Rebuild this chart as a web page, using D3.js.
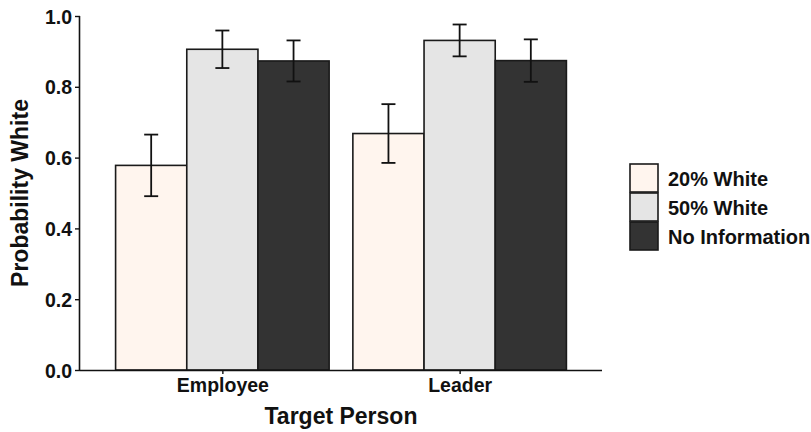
<!DOCTYPE html>
<html>
<head>
<meta charset="utf-8">
<script src="https://cdn.jsdelivr.net/npm/d3@7"></script>
<style>
  html, body { margin: 0; padding: 0; background: #fff; }
  svg { display: block; font-family: "Liberation Sans", Arial, sans-serif; }
</style>
</head>
<body>
<svg id="chart" width="811" height="432"></svg>
<script>
// Target persons on the x axis and the information conditions within each group
const targets = ["Employee", "Leader"];
const conditions = ["20% White", "50% White", "No Information"];

// Mean probability per condition (one entry per target) and the error bar half-widths
const meanTwenty = [0.578, 0.668];
const meanFifty = [0.906, 0.931];
const meanNoInfo = [0.873, 0.874];
const errTwenty = [0.087, 0.083];
const errFifty = [0.053, 0.045];
const errNoInfo = [0.058, 0.060];

const yTicks = [0.0, 0.2, 0.4, 0.6, 0.8, 1.0];
const fills = ["#fff5ee", "#e5e5e5", "#333333"];

const rows = [];
targets.forEach((t, i) => {
  rows.push({ target: t, cond: conditions[0], mean: meanTwenty[i], err: errTwenty[i] });
  rows.push({ target: t, cond: conditions[1], mean: meanFifty[i], err: errFifty[i] });
  rows.push({ target: t, cond: conditions[2], mean: meanNoInfo[i], err: errNoInfo[i] });
});

const svg = d3.select("#chart");
const panelLeft = 80, panelRight = 602, panelTop = 16, panelBottom = 370;
const fontFamily = "'Liberation Sans', Arial, sans-serif";

// Discrete axis with 0.6-unit padding on each side, bars filling 0.9 of a unit
const unit = (panelRight - panelLeft) / 2.2;
const centre = d3.scalePoint().domain(targets).range([panelLeft + 0.6 * unit, panelRight - 0.6 * unit]);
const groupWidth = 0.9 * unit;
const x1 = d3.scaleBand().domain(conditions).range([0, groupWidth]);
const y = d3.scaleLinear().domain([0, 1]).range([panelBottom, panelTop]);
const colour = d3.scaleOrdinal().domain(conditions).range(fills);

// Bars
svg.append("g").selectAll("rect").data(rows).join("rect")
  .attr("x", d => centre(d.target) - groupWidth / 2 + x1(d.cond))
  .attr("y", d => y(d.mean))
  .attr("width", x1.bandwidth())
  .attr("height", d => y(0) - y(d.mean))
  .attr("fill", d => colour(d.cond))
  .attr("stroke", "#1a1a1a")
  .attr("stroke-width", 1.6);

// Error bars
const capHalf = 7;
const eb = svg.append("g").attr("stroke", "#111").attr("stroke-width", 1.8).attr("fill", "none");
rows.forEach(d => {
  const cx = centre(d.target) - groupWidth / 2 + x1(d.cond) + x1.bandwidth() / 2;
  const hi = y(d.mean + d.err), lo = y(d.mean - d.err);
  eb.append("line").attr("x1", cx).attr("x2", cx).attr("y1", hi).attr("y2", lo);
  eb.append("line").attr("x1", cx - capHalf).attr("x2", cx + capHalf).attr("y1", hi).attr("y2", hi);
  eb.append("line").attr("x1", cx - capHalf).attr("x2", cx + capHalf).attr("y1", lo).attr("y2", lo);
});

// Y axis
const yAxis = svg.append("g").attr("transform", `translate(${panelLeft},0)`)
  .call(d3.axisLeft(y).tickValues(yTicks).tickFormat(d3.format(".1f")).tickSize(5).tickPadding(3));
yAxis.select(".domain").attr("d", `M-0.5,${panelTop}V${panelBottom}`).attr("stroke", "#111").attr("stroke-width", 1.6);
yAxis.selectAll(".tick line").attr("stroke", "#111").attr("stroke-width", 1.4);
yAxis.selectAll(".tick text").attr("fill", "#111").attr("dy", "0.36em")
  .style("font-size", "19.5px").style("font-weight", "bold").style("font-family", fontFamily);

// X axis
const xAxis = svg.append("g").attr("transform", `translate(0,${panelBottom})`)
  .call(d3.axisBottom(centre).tickSize(4).tickPadding(4));
xAxis.select(".domain").attr("d", `M${panelLeft},0.5H${panelRight}`).attr("stroke", "#111").attr("stroke-width", 1.6);
xAxis.selectAll(".tick line").attr("stroke", "#111").attr("stroke-width", 1.4);
xAxis.selectAll(".tick text").attr("fill", "#111")
  .style("font-size", "19.5px").style("font-weight", "bold").style("font-family", fontFamily);

// Axis titles
svg.append("text")
  .attr("x", (panelLeft + panelRight) / 2).attr("y", 424)
  .attr("text-anchor", "middle")
  .style("font-size", "23px").style("font-weight", "bold").attr("fill", "#111")
  .text("Target Person");
svg.append("text")
  .attr("transform", `translate(28,${(panelTop + panelBottom) / 2}) rotate(-90)`)
  .attr("text-anchor", "middle")
  .style("font-size", "23px").style("font-weight", "bold").attr("fill", "#111")
  .text("Probability White");

// Legend
const legend = svg.append("g").attr("transform", "translate(630,164)");
const keyH = 29;
conditions.forEach((c, i) => {
  const g = legend.append("g").attr("transform", `translate(0,${i * keyH})`);
  g.append("rect").attr("x", 0).attr("y", 0).attr("width", 28).attr("height", keyH - 1)
    .attr("fill", colour(c)).attr("stroke", "#1a1a1a").attr("stroke-width", 1.6);
  g.append("text").attr("x", 38).attr("y", keyH / 2 + 7)
    .style("font-size", "20px").style("font-weight", "bold").attr("fill", "#111")
    .text(c);
});
</script>
</body>
</html>
